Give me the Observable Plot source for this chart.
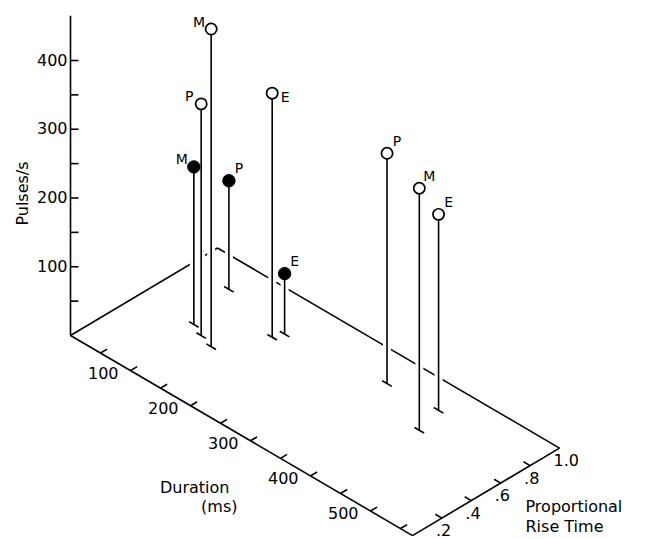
<!DOCTYPE html>
<html>
<head>
<meta charset="utf-8">
<script src="https://cdn.jsdelivr.net/npm/d3@7"></script>
<script src="https://cdn.jsdelivr.net/npm/@observablehq/plot@0.6"></script>
<style>
  html, body { margin: 0; padding: 0; background: #fff; }
  #chart svg { display: block; }
</style>
</head>
<body>
<div id="chart"></div>
<script>
// Stimulus calls: letter, duration (ms), proportional rise time, pulse rate (pulses/s)
const openLetters  = ["M", "P", "E", "P", "M", "E"];
const openDuration = [134, 110, 172, 334, 427, 415];
const openRise     = [0.41, 0.44, 0.67, 0.79, 0.63, 0.81];
const openPulses   = [462, 337, 355, 335, 352, 285];

const filledLetters  = ["M", "P", "E"];
const filledDuration = [88, 68, 178];
const filledRise     = [0.48, 0.80, 0.73];
const filledPulses   = [229, 158, 88];

// Axis ticks and their labels
const pulseTicks      = [50, 100, 150, 200, 250, 300, 350, 400];
const pulseLabels     = [100, 200, 300, 400];
const durationTicks   = [50, 100, 150, 200, 250, 300, 350, 400, 450, 500, 550];
const durationLabels  = [100, 200, 300, 400, 500];
const riseTicks       = [0.2, 0.4, 0.6, 0.8];
const riseLabels      = [0.2, 0.4, 0.6, 0.8, 1.0];

// Which side of its marker each letter sits on
const openLabelSide   = ["nw", "nw", "e", "ne", "ne", "ne"];
const filledLabelSide = ["nw", "ne", "ne"];
const sideOffset = {nw: [-12, -7], ne: [10, -12], e: [13, 4]};

// Oblique projection of (duration, rise time, pulse rate) onto the page
const W = 645, H = 539;
const ORIGIN = [70, 335];
const DUR = [0.6, 0.351];      // per ms
const RISE = [147, -87.5];     // per unit of rise time
const PULSE = 0.6875;          // per pulse/s (upward)
const D_MAX = 570, R_MAX = 1, P_MAX = 465;

function proj(d, r, p = 0) {
  return [ORIGIN[0] + d * DUR[0] + r * RISE[0],
          ORIGIN[1] + d * DUR[1] + r * RISE[1] - p * PULSE];
}
function seg(a, b) { return {x1: a[0], y1: a[1], x2: b[0], y2: b[1]}; }

const points = [
  ...openLetters.map((l, i) => ({letter: l, d: openDuration[i], r: openRise[i], p: openPulses[i], filled: false, side: openLabelSide[i]})),
  ...filledLetters.map((l, i) => ({letter: l, d: filledDuration[i], r: filledRise[i], p: filledPulses[i], filled: true, side: filledLabelSide[i]}))
];
const openPoints = points.filter(q => !q.filled);
const filledPoints = points.filter(q => q.filled);

// Floor parallelogram
const floor = [
  seg(proj(0, 0), proj(D_MAX, 0)),
  seg(proj(D_MAX, 0), proj(D_MAX, R_MAX)),
  seg(proj(0, 0), proj(0, R_MAX)),
  seg(proj(0, R_MAX), proj(D_MAX, R_MAX))
];

const pulseAxis = [seg(proj(0, 0, 0), proj(0, 0, P_MAX))];
const pulseTickSegs = pulseTicks.map(t => { const a = proj(0, 0, t); return seg(a, [a[0] + 8, a[1]]); });
const durTickSegs = durationTicks.map(t => seg(proj(t, 0), proj(t, 0.045)));
const riseTickSegs = riseTicks.map(t => seg(proj(D_MAX, t), proj(D_MAX - 11, t)));

const stems = points.map(q => seg(proj(q.d, q.r, 0), proj(q.d, q.r, q.p)));
const feet = points.map(q => seg(proj(q.d - 8, q.r, 0), proj(q.d + 8, q.r, 0)));

const FONT = "DejaVu Sans";
const lineStyle = {x1: "x1", y1: "y1", x2: "x2", y2: "y2", stroke: "black", strokeWidth: 1.6, strokeLinecap: "butt"};
const topX = q => proj(q.d, q.r, q.p)[0];
const topY = q => proj(q.d, q.r, q.p)[1];

const chart = Plot.plot({
  width: W,
  height: H,
  margin: 0,
  x: {domain: [0, W], range: [0, W], axis: null},
  y: {domain: [0, H], range: [0, H], axis: null},
  style: {background: "white", fontFamily: FONT, color: "black"},
  marks: [
    Plot.link(floor, lineStyle),
    Plot.link(pulseAxis, lineStyle),
    Plot.link(pulseTickSegs, lineStyle),
    Plot.link(durTickSegs, lineStyle),
    Plot.link(riseTickSegs, lineStyle),
    // stems hide the floor lines that pass behind them
    Plot.link(stems, {...lineStyle, stroke: "white", strokeWidth: 8}),
    Plot.link(stems, lineStyle),
    Plot.link(feet, lineStyle),
    Plot.dot(openPoints, {x: topX, y: topY, r: 5.6, fill: "white", stroke: "black", strokeWidth: 1.7}),
    Plot.dot(filledPoints, {x: topX, y: topY, r: 6.2, fill: "black", stroke: "black", strokeWidth: 1}),
    Plot.text(points, {
      x: q => topX(q) + sideOffset[q.side][0],
      y: q => topY(q) + sideOffset[q.side][1],
      text: "letter",
      fontSize: 14,
      fill: "black"
    }),
    // pulse-rate tick labels
    Plot.text(pulseLabels, {
      x: t => proj(0, 0, t)[0],
      y: t => proj(0, 0, t)[1],
      text: t => String(t),
      textAnchor: "end",
      dx: -3,
      fontSize: 16,
      fill: "black"
    }),
    // duration tick labels
    Plot.text(durationLabels, {
      x: t => proj(t, 0)[0],
      y: t => proj(t, 0)[1],
      text: t => String(t),
      textAnchor: "end",
      dx: -12,
      dy: 3,
      fontSize: 16,
      fill: "black"
    }),
    // rise-time tick labels
    Plot.text(riseLabels, {
      x: t => proj(D_MAX, t)[0],
      y: t => proj(D_MAX, t)[1],
      text: t => t === 1 ? "1.0" : "." + Math.round(t * 10),
      textAnchor: "start",
      dx: -6,
      dy: 13,
      fontSize: 16,
      fill: "black"
    }),
    Plot.text(["Pulses/s"], {x: 22, y: 193, rotate: -90, fontSize: 16, fill: "black"}),
    Plot.text(["Duration"], {x: 229, y: 487, textAnchor: "end", fontSize: 16, fill: "black"}),
    Plot.text(["(ms)"], {x: 237, y: 506, textAnchor: "end", fontSize: 16, fill: "black"}),
    Plot.text(["Proportional"], {x: 525, y: 506, textAnchor: "start", fontSize: 16, fill: "black"}),
    Plot.text(["Rise Time"], {x: 525, y: 526, textAnchor: "start", fontSize: 16, fill: "black"})
  ]
});

document.getElementById("chart").appendChild(chart);
</script>
</body>
</html>
